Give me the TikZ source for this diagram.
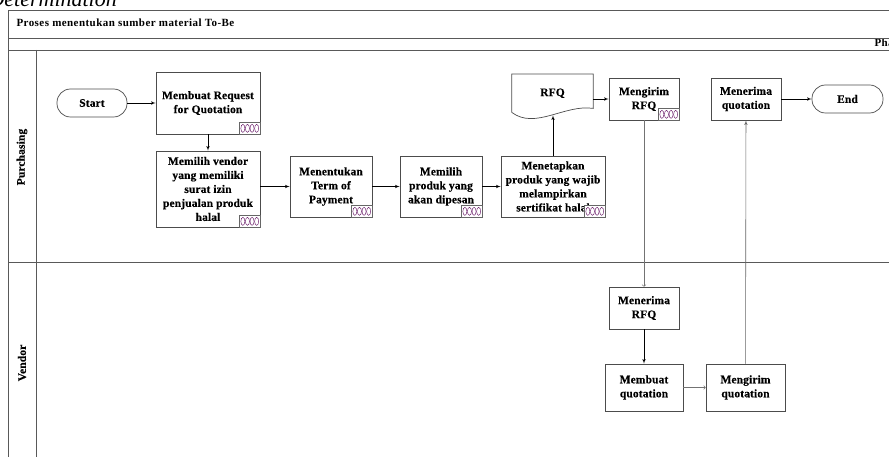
\documentclass[tikz,border=0pt]{standalone}
\usepackage{fontspec}
\setmainfont{Liberation Serif}
\newfontfamily\spacedserif{Liberation Serif}[LetterSpace=4]
\newfontfamily\taskserif{Liberation Serif}[LetterSpace=1,FakeBold=0.3]
\usetikzlibrary{arrows}

\newcommand{\taskfont}{\taskserif\fontsize{11.5}{14}\selectfont\bfseries}
\newcommand{\poolfont}{\spacedserif\fontsize{11}{12}\selectfont\bfseries}
\newcommand{\lanefont}{\taskserif\fontsize{11.5}{13}\selectfont\bfseries}

% subprocess marker in the lower right corner of a task
\newcommand{\subicon}[1]{%
  \begin{scope}[shift={(#1.south east)}]
    \draw[black!60,line width=.5pt,fill=white] (0,0) rectangle (-21,-12);
    \foreach \k in {0,...,3}
      \draw[violet!70!black,line width=.4pt] (-17.5+4.6*\k,-6) ellipse (2pt and 4pt);
  \end{scope}}

\begin{document}
\begin{tikzpicture}[x=1pt,y=-1pt,>=latex',
    lane/.style={draw=black!65,line width=.9pt},
    task/.style={draw=black!70,line width=.7pt,align=center,inner sep=1pt,font=\taskfont},
    term/.style={task,rounded corners=13.5pt,minimum width=70pt,minimum height=28pt},
    flow/.style={->,black,line width=.6pt},
    msg/.style={->,>=to,black!55,line width=.6pt}]

  \useasboundingbox (0,0) rectangle (889,457);

  \begin{scope}
    \clip (0,0) rectangle (889,457);
    \node[anchor=base west,font=\fontsize{22}{22}\selectfont\itshape] (doctitle) at (-15,7) {Determination};
    \node[anchor=base west,font=\poolfont] (phase) at (871,47) {Phase};
  \end{scope}

  % pool and lanes
  \draw[lane] (8,457) -- (8,10) -- (889,10);
  \draw[lane] (8,38) -- (889,38);
  \draw[lane] (8,50) -- (889,50);
  \draw[lane] (36,50) -- (36,457);
  \draw[lane] (8,262) -- (889,262);
  \node[anchor=base west,font=\poolfont] (pool) at (13,27) {Proses menentukan sumber material To-Be};
  \node[rotate=90,font=\lanefont] (purch) at (22,157) {Purchasing};
  \node[rotate=90,font=\lanefont] (vend) at (22,363) {Vendor};

  % purchasing
  \node[term] (start) at (92,103) {Start};
  \node[task,minimum width=104pt,minimum height=62pt] (req) at (208,103) {Membuat Request\\for Quotation};
  \node[task,minimum width=104pt,minimum height=76pt] (vendsel) at (208,189) {Memilih vendor\\yang memiliki\\surat izin\\penjualan produk\\halal};
  \node[task,minimum width=82pt,minimum height=61pt] (top) at (331,186.5) {Menentukan\\Term of\\Payment};
  \node[task,minimum width=82pt,minimum height=61pt] (prod) at (441,186.5) {Memilih\\produk yang\\akan dipesan};
  \node[task,minimum width=104pt,minimum height=61pt] (cert) at (553,186.5) {Menetapkan\\produk yang wajib\\melampirkan\\sertifikat halal};
  \node[minimum width=81pt,minimum height=38pt,font=\taskfont,anchor=north] (rfq) at (552.5,74) {RFQ};
  \draw[black!70,line width=.7pt] (rfq.south west) -- (rfq.north west) -- (rfq.north east)
    -- ([yshift=4pt]rfq.south east) .. controls (565,104) and (535,130) .. (rfq.south west)
    coordinate[pos=.5] (rfqwave);
  \node[task,minimum width=70pt,minimum height=42pt] (sendrfq) at (644,99) {Mengirim\\RFQ};
  \node[task,minimum width=70pt,minimum height=42pt] (getquo) at (746,99) {Menerima\\quotation};
  \node[term,minimum width=71pt] (end) at (847.5,99) {End};

  % vendor
  \node[task,minimum width=70pt,minimum height=42pt] (getrfq) at (644,308) {Menerima\\RFQ};
  \node[task,minimum width=78pt,minimum height=47pt] (mkquo) at (644,387.5) {Membuat\\quotation};
  \node[task,minimum width=79pt,minimum height=47pt] (sendquo) at (745.5,387.5) {Mengirim\\quotation};

  \subicon{req}
  \subicon{vendsel}
  \subicon{top}
  \subicon{prod}
  \subicon{cert}
  \subicon{sendrfq}

  % flows
  \draw[flow] (start) -- (req);
  \draw[flow] (req) -- (vendsel);
  \draw[flow] (vendsel.east |- top) -- (top);
  \draw[flow] (top) -- (prod);
  \draw[flow] (prod) -- (cert);
  \draw[flow] (cert.north) -- (cert.north |- rfqwave);
  \draw[flow] (rfq.east |- sendrfq) -- (sendrfq);
  \draw[msg] (sendrfq) -- (getrfq);
  \draw[flow] (getrfq) -- (mkquo);
  \draw[msg] (mkquo) -- (sendquo);
  \draw[flow,black!60] (sendquo) -- (getquo);
  \draw[flow] (getquo) -- (end);
\end{tikzpicture}
\end{document}
